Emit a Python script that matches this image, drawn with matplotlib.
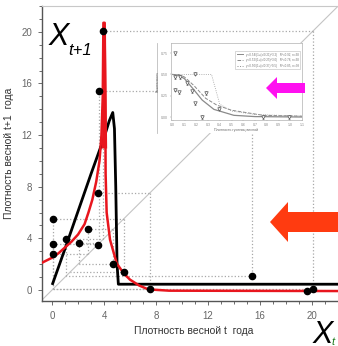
import matplotlib
matplotlib.use("Agg")
import matplotlib.pyplot as plt
from matplotlib.patches import Polygon
from matplotlib.lines import Line2D

plt.rcParams["font.family"] = ["Liberation Sans", "DejaVu Sans"]

W, H = 338, 346

# ---- данные: плотность по годам (траектории для диаграммы Ламерея) ----
seq_a = [0.05, 2.8, 4.7, 2.05, 3.65, 15.4, 1.05, 3.95, 20.1, 0.05, 5.5, 1.4]
seq_b = [3.55, 7.55, 0.05, 3.57, 3.5]
extra_xt = [19.6]
extra_xt1 = [-0.05]

# модель (черная) и подогнанная кривая (красная)
black_x = [0.05, 1.0, 2.0, 3.0, 4.0, 4.4, 4.67, 4.8, 4.9, 5.0, 5.1, 22.6]
black_y = [0.5, 3.2, 6.1, 9.0, 11.8, 13.1, 13.75, 12.5, 8.0, 2.0, 0.45, 0.45]

red_x = [-0.8, 0.0, 0.5, 1.0, 1.5, 2.0, 2.5, 2.8, 3.1, 3.4, 3.65, 3.8, 3.9, 3.95,
         4.05, 4.1, 4.12, 4.2, 4.46, 4.97, 5.5, 6.0, 6.7, 7.4, 9.0, 22.6]
red_y = [2.1, 2.5, 2.85, 3.3, 3.75, 4.3, 5.1, 6.0, 7.0, 8.4, 10.0, 12.0, 15.0, 20.7,
         20.7, 14.0, 9.0, 6.0, 3.9, 2.07, 1.3, 0.8, 0.35, 0.05, -0.05, -0.08]
spike_y = [11.0, 20.0]
spike_left = [3.8, 3.9]
spike_right = [4.2, 4.1]

# вставка: выживаемость от плотности
in_px = [0.02, 0.02, 0.06, 0.02, 0.05, 0.12, 0.19, 0.16, 0.28, 0.19, 0.39, 0.25, 0.77, 0.99]
in_py = [0.75, 0.47, 0.47, 0.32, 0.29, 0.40, 0.51, 0.30, 0.28, 0.16, 0.10, 0.0, 0.0, 0.0]
solid_x = [0.0, 0.05, 0.1, 0.18, 0.25, 0.35, 0.52, 0.7, 1.1]
solid_y = [0.5, 0.49, 0.45, 0.32, 0.2, 0.09, 0.02, 0.005, 0.0]
dash_x = [0.0, 0.05, 0.1, 0.18, 0.28, 0.375, 0.5, 0.77, 1.1]
dash_y = [0.5, 0.5, 0.47, 0.37, 0.22, 0.14, 0.08, 0.02, 0.01]
dot_x = [0.0, 0.33, 0.36, 0.40, 0.5, 0.7, 1.1]
dot_y = [0.5, 0.5, 0.35, 0.15, 0.07, 0.03, 0.01]
in_labels = ["y=0.54/(1+(x/0.21)^3.2)", "y=0.52/(1+(x/0.25)^3.0)", "y=0.50/(1+(x/0.37)^9.5)"]
in_stats = ["R²=0.92, n=38", "R²=0.78, n=38", "R²=0.85, n=38"]


def px_box(l, t, r, b):
    return [l / W, 1 - b / H, (r - l) / W, (b - t) / H]


fig = plt.figure(figsize=(W / 100, H / 100), dpi=100)

# ================= основной график =================
ax = fig.add_axes(px_box(42, 6, 346, 301))
ax.set_xlim(-0.77, 22.6)
ax.set_ylim(-0.85, 22.0)

ax.plot([-0.85, 22.6], [-0.85, 22.6], color="#c4c4c4", lw=0.8, zorder=1)

# диаграмма Ламерея (пунктир)
dot_kw = dict(color="#a8a8a8", ls=":", lw=0.9, zorder=1)
for s in (seq_a, seq_b):
    for i in range(len(s) - 1):
        ax.plot([s[i], s[i + 1]], [s[i + 1], s[i + 1]], **dot_kw)
        if i + 2 < len(s):
            ax.plot([s[i + 1], s[i + 1]], [s[i + 1], s[i + 2]], **dot_kw)

ax.plot(black_x, black_y, color="black", lw=2.0, zorder=3)
ax.plot(red_x, red_y, color="#e8161e", lw=1.8, zorder=4)
ax.fill_betweenx(spike_y, spike_left, spike_right, color="#e8161e", lw=0, zorder=4)

xt = seq_a[:-1] + seq_b[:-1] + extra_xt
xt1 = seq_a[1:] + seq_b[1:] + extra_xt1
ax.scatter(xt, xt1, s=20, color="black", zorder=5)

ax.set_xticks(range(0, 21, 4))
ax.set_yticks(range(0, 21, 4))
ax.set_xticks(range(0, 23), minor=True)
ax.set_yticks(range(0, 23), minor=True)
ax.tick_params(which="both", colors="#555555", labelcolor="#666666", labelsize=7,
               direction="out", width=0.6)
ax.tick_params(which="major", length=3, pad=4)
ax.tick_params(which="minor", length=2)
for side in ("left", "bottom"):
    ax.spines[side].set_color("#555555")
    ax.spines[side].set_linewidth(1.0)
ax.spines["top"].set_color("#c8c8c8")
ax.spines["right"].set_visible(False)
ax.set_xlabel("Плотность весной t  года", fontsize=7.5, color="#333333", labelpad=4)
ax.set_ylabel("Плотность весной t+1  года", fontsize=7.5, color="#333333", labelpad=5)

# ================= вставка =================
bg = fig.add_axes(px_box(157, 43, 303, 133))
bg.set_xticks([])
bg.set_yticks([])
bg.set_facecolor("white")
for side in ("top", "right", "bottom"):
    bg.spines[side].set_visible(False)
bg.spines["left"].set_color("#bdbdbd")
bg.spines["left"].set_linewidth(0.6)

ai = fig.add_axes(px_box(171, 43, 302, 120))
ai.set_xlim(-0.015, 1.1)
ai.set_ylim(-0.035, 0.87)
ai.plot(solid_x, solid_y, color="#8a8a8a", lw=0.9)
ai.plot(dash_x, dash_y, color="#8a8a8a", lw=0.7, ls="--")
ai.plot(dot_x, dot_y, color="#9a9a9a", lw=0.6, ls=":")
ai.errorbar(in_px, in_py, yerr=0.02, fmt="v", ms=2.5, mfc="white", mec="#555555",
            ecolor="#777777", elinewidth=0.4, capsize=1, mew=0.5)
ai.set_xticks([i / 10 for i in range(12)])
ai.set_xticklabels([f"{i / 10:.1f}" for i in range(12)])
ai.set_yticks([0, 0.25, 0.5, 0.75])
ai.set_yticklabels(["0.00", "0.25", "0.50", "0.75"])
ai.tick_params(labelsize=2.5, length=1, width=0.3, pad=1, colors="#888888")
for sp in ai.spines.values():
    sp.set_color("#b0b0b0")
    sp.set_linewidth(0.5)
ai.set_xlabel("Плотность гусениц весной", fontsize=2.6, color="#666666", labelpad=1)
ai.set_ylabel("Выживаемость", fontsize=2.2, color="#666666", labelpad=1)
handles = [Line2D([], [], color="#8a8a8a", lw=0.7, ls=ls) for ls in ("-", "--", ":")]
ai.legend(handles, [f"{a}   {b}" for a, b in zip(in_labels, in_stats)],
          loc="upper right", bbox_to_anchor=(1.0, 0.92), fontsize=2.2, handlelength=2,
          frameon=True, fancybox=False, edgecolor="#aaaaaa", borderpad=0.6,
          labelspacing=0.5, labelcolor="#777777").get_frame().set_linewidth(0.4)

# ================= стрелки и подписи =================
ov = fig.add_axes([0, 0, 1, 1])
ov.set_xlim(0, W)
ov.set_ylim(H, 0)
ov.axis("off")
ov.patch.set_alpha(0)
ov.add_patch(Polygon([(266, 88), (277, 77), (277, 83), (305, 83), (305, 93), (277, 93),
                      (277, 99)], closed=True, color="#ff10f0", lw=0))
ov.add_patch(Polygon([(270, 222), (288, 202), (288, 212), (345, 212), (345, 232),
                      (288, 232), (288, 242)], closed=True, color="#ff3b10", lw=0))
ov.text(49, 45, "X", fontsize=22, style="italic", va="baseline", color="black")
ov.text(68, 55, "t+1", fontsize=12, style="italic", va="baseline", color="black")
ov.text(313, 343, "X", fontsize=22, style="italic", va="baseline", color="black")
ov.text(331, 345, "t", fontsize=8, style="italic", va="baseline", color="#1a7a1a")

fig.savefig("out.png", dpi=100, facecolor="white")
